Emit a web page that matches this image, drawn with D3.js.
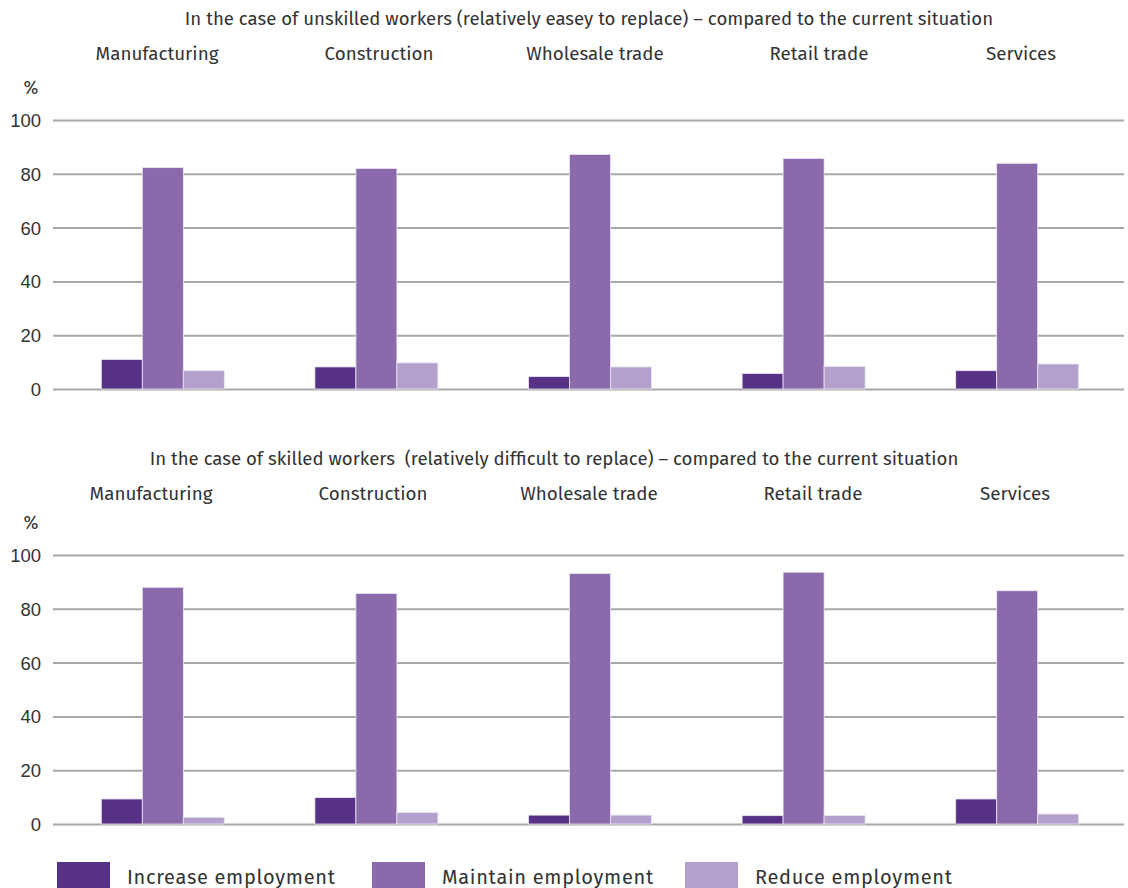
<!DOCTYPE html>
<html>
<head>
<meta charset="utf-8">
<script src="https://cdn.jsdelivr.net/npm/d3@7"></script>
<style>
  html, body { margin: 0; padding: 0; background: #fff; }
  svg { display: block; font-family: "Fira Sans", "Open Sans", "Noto Sans", sans-serif; }
</style>
</head>
<body>
<svg id="chart" width="1128" height="888"></svg>
<script>
// Sectors shown in each panel
const sectors = ["Manufacturing", "Construction", "Wholesale trade", "Retail trade", "Services"];
// Employment intentions (series)
const seriesNames = ["Increase employment", "Maintain employment", "Reduce employment"];
const seriesColors = ["#563185", "#8a6aaa", "#b3a0cd"];
const yTicks = [0, 20, 40, 60, 80, 100];

// Panel titles
const titleUnskilled = "In the case of unskilled workers (relatively easey to replace) – compared to the current situation";
const titleSkilled = "In the case of skilled workers  (relatively difficult to replace) – compared to the current situation";

// Shares of firms, % (per sector: increase, maintain, reduce)
const unskilledIncrease = [11.0, 8.2, 4.6, 5.8, 6.8];
const unskilledMaintain = [82.3, 82.0, 87.2, 85.7, 83.9];
const unskilledReduce   = [6.8, 9.7, 8.2, 8.4, 9.3];

const skilledIncrease = [9.3, 9.8, 3.3, 3.1, 9.3];
const skilledMaintain = [88.0, 85.7, 93.1, 93.6, 86.7];
const skilledReduce   = [2.5, 4.3, 3.3, 3.2, 3.7];

const svg = d3.select("#chart");
const plotLeft = 56, plotRight = 1124, gridLeft = 53;
// Horizontal centres of the sector headings (top panel; the lower panel is shifted by its offset)
const headingX = [157, 379, 595, 819, 1021];

const x0 = d3.scaleBand().domain(sectors).range([plotLeft, plotRight]).padding(0);
const groupW = 123;
const x1 = d3.scaleBand().domain(seriesNames).range([0, groupW]).padding(0);

function panel(cfg) {
  const g = svg.append("g");
  const y = d3.scaleLinear().domain([0, 100]).range([cfg.y0, cfg.y100]);

  // Panel title
  g.append("text")
    .attr("x", cfg.titleX).attr("y", cfg.titleY)
    .attr("text-anchor", "middle")
    .attr("font-size", 18.6).attr("fill", "#333")
    .style("white-space", "pre")
    .text(cfg.title);

  // Sector headings above the bars
  g.selectAll("text.sector").data(sectors).join("text")
    .attr("class", "sector")
    .attr("x", (d, i) => headingX[i] + cfg.headingDx)
    .attr("y", cfg.sectorY)
    .attr("text-anchor", "middle")
    .attr("font-size", 18.8).attr("fill", "#333")
    .text(d => d);

  // Unit label
  g.append("text")
    .attr("x", 31).attr("y", cfg.y100 - 26)
    .attr("text-anchor", "middle")
    .attr("font-size", 18).attr("fill", "#333")
    .text("%");

  // Gridlines and y-axis ticks
  const axis = d3.axisLeft(y).tickValues(yTicks).tickSize(0).tickPadding(0);
  const ag = g.append("g").attr("transform", `translate(${gridLeft},0)`).call(axis);
  ag.select(".domain").remove();
  ag.selectAll(".tick text")
    .attr("x", -12).attr("dy", "0.35em")
    .attr("font-size", 18.5).attr("fill", "#333")
    .attr("font-family", null);
  ag.selectAll(".tick line")
    .attr("x1", 0).attr("x2", 1124 - gridLeft)
    .attr("stroke", "#a8a8a8").attr("stroke-width", 2);

  // Bars
  const rows = sectors.map((s, i) => ({
    sector: s,
    values: seriesNames.map((n, k) => ({ name: n, value: cfg.data[k][i], color: seriesColors[k] }))
  }));
  const groups = g.selectAll("g.grp").data(rows).join("g")
    .attr("class", "grp")
    .attr("transform", d => `translate(${x0(d.sector) + (x0.bandwidth() - groupW) / 2},0)`);
  groups.selectAll("rect").data(d => d.values).join("rect")
    .attr("x", d => x1(d.name))
    .attr("width", x1.bandwidth())
    .attr("y", d => y(d.value))
    .attr("height", d => y(0) - y(d.value))
    .attr("fill", d => d.color)
    .attr("stroke", "#ece6f3").attr("stroke-width", 0.8);
}

panel({
  title: titleUnskilled, titleX: 589, titleY: 25, sectorY: 60, headingDx: 0,
  y0: 389, y100: 120,
  data: [unskilledIncrease, unskilledMaintain, unskilledReduce]
});
panel({
  title: titleSkilled, titleX: 554, titleY: 465, sectorY: 500, headingDx: -6,
  y0: 824, y100: 555,
  data: [skilledIncrease, skilledMaintain, skilledReduce]
});

// Legend
const legendX = [57, 372, 685];
const lg = svg.append("g");
const items = lg.selectAll("g").data(seriesNames).join("g")
  .attr("transform", (d, i) => `translate(${legendX[i]},862)`);
items.append("rect")
  .attr("width", 53).attr("height", 28)
  .attr("fill", (d, i) => seriesColors[i]);
items.append("text")
  .attr("x", 70).attr("y", 22)
  .attr("font-size", 20).attr("fill", "#333")
  .attr("letter-spacing", 0.7)
  .text(d => d);
</script>
</body>
</html>
